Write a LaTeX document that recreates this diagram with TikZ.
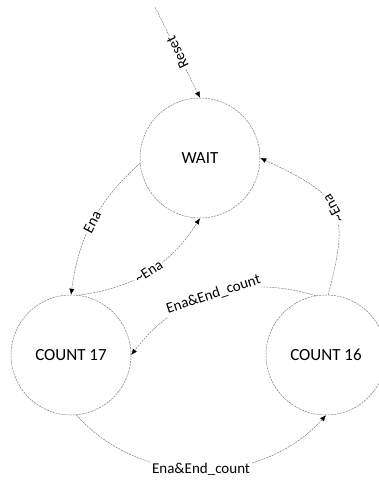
\documentclass[tikz,border=0pt]{standalone}
\usepackage{fontspec}
\setmainfont{Carlito}
\usetikzlibrary{positioning, arrows.meta}
\usepackage{xcolor}
\definecolor{EdgeGray}{HTML}{7A7A7A}

\begin{document}
\begin{tikzpicture}[x=1pt, y=1pt,
    state/.style={circle, draw=EdgeGray, line width=0.5pt, dash pattern=on 2pt off 1pt,
                  minimum size=120pt, inner sep=0pt, font=\fontsize{17}{20}\selectfont},
    trans/.style={draw=EdgeGray, line width=0.5pt, dash pattern=on 2pt off 1pt,
                  -{Latex[length=6pt, width=5pt, color=black]}},
    lbl/.style={fill=white, inner sep=1.5pt, font=\fontsize{15}{18}\selectfont}]
                \useasboundingbox (0,0) rectangle (378,482);
                \node[state] (wait) at (200, 324) {WAIT};
                \node[state] (cnt17) at (71, 127) {COUNT 17};
                \node[state] (cnt16) at (326, 127) {COUNT 16};
                \coordinate (reset) at (155, 475);

                % Transitions
                \draw[trans, {Latex[length=6pt, width=5pt, color=black]}-] (wait.north) -- (reset)
                    node[lbl, midway, sloped, allow upside down] {Reset};
                \draw[trans] (wait.185) to[bend right=20] node[lbl, sloped] {Ena} (cnt17.north);
                \draw[trans] (cnt17.83) to[bend right=25] node[lbl, sloped] {\textasciitilde Ena} (wait.south);
                \draw[trans] (cnt16.88) to[out=75, in=-25, looseness=1.5]
                    node[lbl, sloped, allow upside down] {\textasciitilde Ena} (wait.east);
                \draw[trans] (cnt16.100) to[bend right=35] node[lbl, sloped] {Ena\&End\_count} (cnt17.east);
                \draw[trans] (cnt17.-85) to[bend right=48] node[lbl] {Ena\&End\_count} (cnt16.south);
            \end{tikzpicture}
\end{document}
